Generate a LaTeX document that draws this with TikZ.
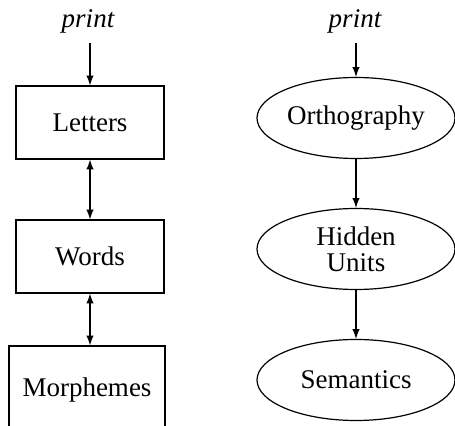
\documentclass[tikz,border=0pt]{standalone}
\usepackage{fontspec}
\setmainfont{Liberation Serif}
\usetikzlibrary{shapes.geometric}

\begin{document}
\begin{tikzpicture}[x=0.5pt,y=-0.5pt,
    font=\fontsize{13.5}{13}\selectfont,
    box/.style={draw,line width=0.6pt,minimum width=74pt,minimum height=36.5pt,inner sep=0pt},
    oval/.style={draw,ellipse,line width=0.6pt,minimum width=99pt,minimum height=40.5pt,inner sep=0pt,align=center},
    lbl/.style={font=\fontsize{13.5}{13}\selectfont\itshape,inner sep=5pt},
    link/.style={line width=0.7pt}]
    \useasboundingbox (0,0) rectangle (455,426);
    % left column
    \node[lbl] (pl) at (88,21) {print};
    \node[box] (let) at (90,122.5) {Letters};
    \node[box] (wrd) at (90,256.5) {Words};
    \node[box,minimum width=78pt,minimum height=44pt] (mor) at (87,390) {Morphemes};
    \draw[link,-latex] (let.north |- pl.south) -- (let);
    \draw[link,latex-latex] (let.south) -- (wrd.north);
    \draw[link,latex-latex] (wrd.south) -- (wrd.south |- mor.north);
    % right column
    \node[lbl] (pr) at (355,21) {print};
    \node[oval] (orth) at (356,118) {Orthography};
    \node[oval] (hid) at (356,249) {Hidden\\Units};
    \node[oval] (sem) at (356,380) {Semantics};
    \draw[link,-latex] (orth.north |- pr.south) -- (orth);
    \draw[link,-latex] (orth) -- (hid);
    \draw[link,-latex] (hid) -- (sem);
\end{tikzpicture}
\end{document}
